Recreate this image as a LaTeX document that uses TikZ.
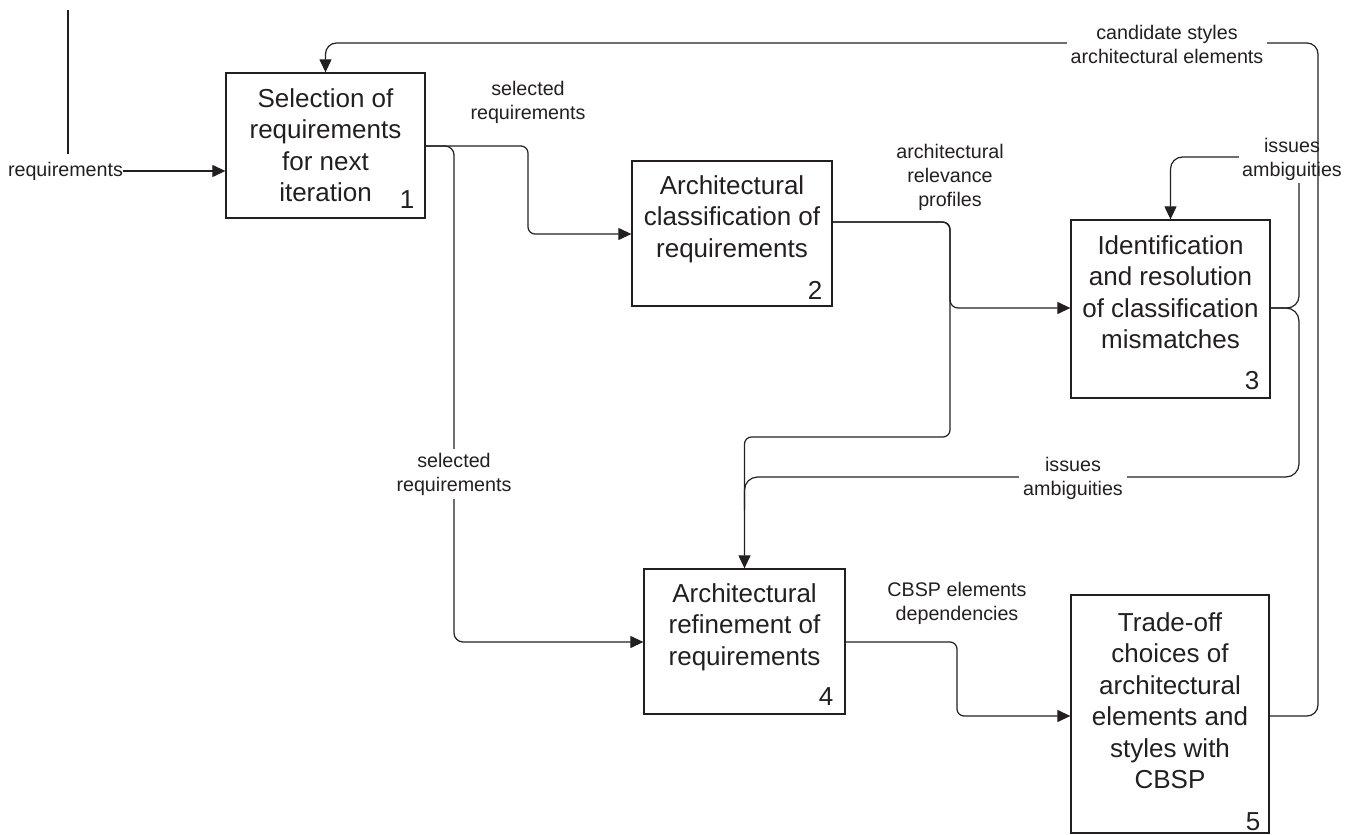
\documentclass[tikz,border=0pt]{standalone}
\usepackage{fontspec}
\setmainfont{Liberation Sans}
\usetikzlibrary{arrows.meta}
\definecolor{ink}{HTML}{231F20}
\newcommand\procfont{\fontsize{26}{31.5}\selectfont}
\newcommand\flowfont{\fontsize{19.7}{24}\selectfont}
\begin{document}
\begin{tikzpicture}[x=1pt,y=-1pt,
  proc/.style={draw=ink, line width=1.3pt, rectangle, inner sep=0pt},
  proctext/.style={anchor=north, inner sep=0pt, align=center, text=ink, font=\procfont},
  procnum/.style={inner sep=0pt, text=ink, font=\procfont},
  flowlabel/.style={inner sep=0pt, align=center, text=ink, font=\flowfont},
  cutlabel/.style={flowlabel, fill=white, inner sep=4pt},
  flow/.style={draw=ink, line width=1.2pt},
  arr/.style={-{Triangle[length=13pt,width=12pt]}},
]
\useasboundingbox (0,0) rectangle (1358,835);

% activity boxes
\node[proc, minimum width=199pt, minimum height=145pt] (b1) at (325.5,145.5) {};
\node[proc, minimum width=200pt, minimum height=145pt] (b2) at (732,233.5) {};
\node[proc, minimum width=199pt, minimum height=178pt] (b3) at (1170.5,309) {};
\node[proc, minimum width=201pt, minimum height=145pt] (b4) at (744.5,641.5) {};
\node[proc, minimum width=198pt, minimum height=238pt] (b5) at (1170,714) {};

% box titles
\node[proctext] (t1) at (325.5,85) {\strut Selection of\\requirements\\for next\\iteration};
\node[proctext] (t2) at (732,172) {\strut Architectural\\classification of\\requirements};
\node[proctext] (t3) at (1170.5,232) {\strut Identification\\and resolution\\of classification\\mismatches};
\node[proctext] (t4) at (744.5,580) {\strut Architectural\\refinement of\\requirements};
\node[proctext] (t5) at (1170,609) {\strut Trade-off\\choices of\\architectural\\elements and\\styles with\\CBSP};

% box numbers
\node[procnum] (n1) at (407,200) {1};
\node[procnum] (n2) at (815,290) {2};
\node[procnum] (n3) at (1252,381) {3};
\node[procnum] (n4) at (826,697) {4};
\node[procnum] (n5) at (1253,822) {5};

% external input
\coordinate (ctop) at (68,10);
\coordinate (cbot) at (68,154);
\draw[flow] (ctop) -- (cbot);
\node[flowlabel] (lreq) at (65.5,171) {requirements};
\draw[flow, arr] (lreq.east) -- (b1.west |- lreq.east);

% 1 -> 2 and 1 -> 4
\node[flowlabel] (lsel1) at (528,102.5) {selected\\requirements};
\draw[flow, arr, rounded corners=7pt] (b1.east |- 0,146) -- (528,146) -- (528,234) -- (b2.west |- 0,234);
\draw[flow, arr, rounded corners=9pt] (b1.east |- 0,146) -- (454,146) -- (454,642) -- (b4.west |- 0,642);
\node[cutlabel] (lsel2) at (454,474) {selected\\requirements};

% 2 -> 3 and 2 -> 4
\node[flowlabel] (larp) at (950,177) {architectural\\relevance\\profiles};
\draw[flow, arr, rounded corners=7pt] (b2.east |- 0,222) -- (950,222) -- (950,437) -- (b4.north |- 0,437) -- (b4.north);
\draw[flow, arr, rounded corners=8pt] (b2.east |- 0,222) -- (950,222) -- (950,308) -- (b3.west |- 0,308);

% 3 -> 3 (control loop) and 3 -> 4
\draw[flow, arr, rounded corners=12pt] (b3.east |- 0,308) -- (1299,308) -- (1299,157) -- (b3.north |- 0,157) -- (b3.north);
\draw[flow, rounded corners=13pt] (b3.east |- 0,308) -- (1299,308) -- (1299,477) -- (b4.north |- 0,477) -- (b4.north |- 0,510);
\node[cutlabel, inner sep=3pt] (liss1) at (1292,159) {issues\\ambiguities};
\node[cutlabel] (liss2) at (1073,478) {issues\\ambiguities};

% 4 -> 5
\node[flowlabel] (lcbsp) at (957,603) {CBSP elements\\dependencies};
\draw[flow, arr, rounded corners=7pt] (b4.east |- 0,642) -- (957,642) -- (957,716) -- (b5.west |- 0,716);

% 5 -> 1 feedback
\draw[flow, arr, rounded corners=11pt] (b5.east |- 0,716) -- (1318,716) -- (1318,43) -- (b1.north |- 0,43) -- (b1.north);
\node[cutlabel] (lcand) at (1167,44) {candidate styles\\architectural elements};
\end{tikzpicture}
\end{document}
